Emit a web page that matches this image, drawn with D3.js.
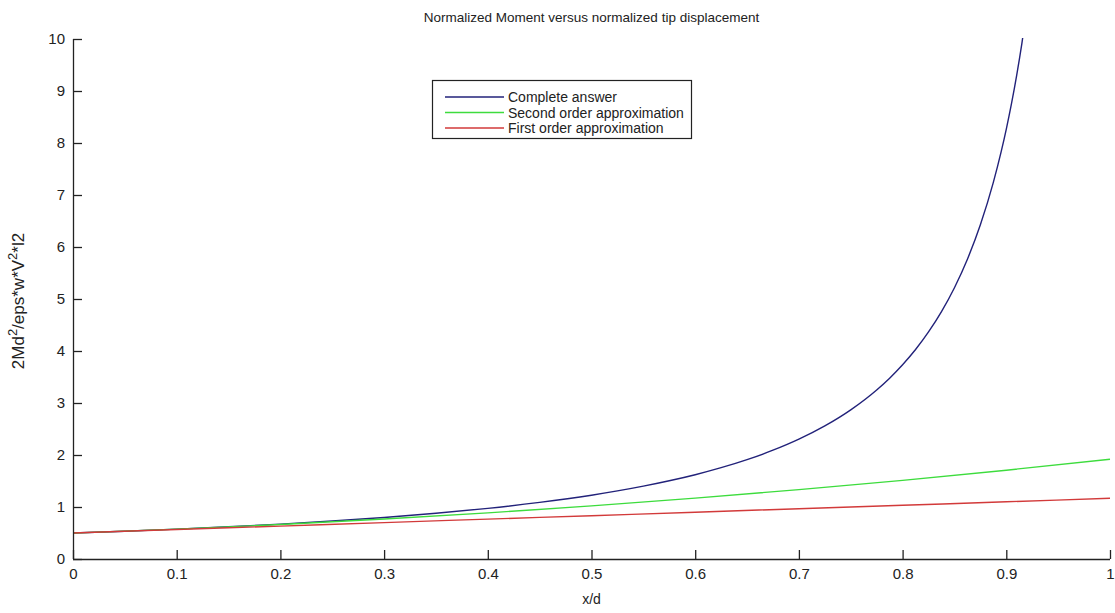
<!DOCTYPE html>
<html>
<head>
<meta charset="utf-8">
<script src="https://cdn.jsdelivr.net/npm/d3@7"></script>
<style>
  html, body { margin: 0; padding: 0; background: #fff; }
  svg { display: block; }
</style>
</head>
<body>
<svg id="chart" width="1115" height="613"></svg>
<script>
// ---- data ----
const seriesNames = ["Complete answer", "Second order approximation", "First order approximation"];
const seriesColors = ["#22227a", "#3ddc3d", "#d23a3a"];

const completeX = [0, 0.05, 0.1, 0.15, 0.2, 0.25, 0.3, 0.35, 0.4, 0.45, 0.5, 0.525, 0.55, 0.575, 0.6, 0.625, 0.65, 0.675, 0.7, 0.725, 0.75, 0.775, 0.7875, 0.8, 0.8125, 0.825, 0.8375, 0.85, 0.8625, 0.875, 0.8875, 0.895, 0.9, 0.905, 0.91, 0.915, 0.92];
const completeY = [0.5, 0.535, 0.575, 0.620, 0.671, 0.730, 0.799, 0.879, 0.974, 1.088, 1.227, 1.309, 1.401, 1.504, 1.621, 1.756, 1.911, 2.092, 2.305, 2.560, 2.869, 3.251, 3.478, 3.735, 4.028, 4.366, 4.757, 5.217, 5.765, 6.427, 7.242, 7.828, 8.268, 8.757, 9.302, 9.913, 10.603];

const secondX = [0, 0.1, 0.2, 0.3, 0.4, 0.5, 0.6, 0.7, 0.8, 0.9, 1.0];
const secondY = [0.5, 0.574, 0.663, 0.768, 0.887, 1.021, 1.170, 1.334, 1.513, 1.708, 1.917];

const firstX = [0, 0.1, 0.2, 0.3, 0.4, 0.5, 0.6, 0.7, 0.8, 0.9, 1.0];
const firstY = [0.5, 0.567, 0.633, 0.700, 0.767, 0.833, 0.900, 0.967, 1.033, 1.100, 1.167];

const xTicks = [0, 0.1, 0.2, 0.3, 0.4, 0.5, 0.6, 0.7, 0.8, 0.9, 1];
const yTicks = [0, 1, 2, 3, 4, 5, 6, 7, 8, 9, 10];

const titleText = "Normalized Moment versus normalized tip displacement";
const xLabelText = "x/d";

// ---- layout ----
const svg = d3.select("#chart");
const pL = 73, pR = 1110, pT = 39, pB = 559;
const x = d3.scaleLinear().domain([0, 1]).range([pL, pR]);
const y = d3.scaleLinear().domain([0, 10]).range([pB, pT]);

const axisColor = "#222";
const fontFam = "'Liberation Sans', Arial, sans-serif";
const fontSize = 14;
const tickFont = 15;

svg.append("defs").append("clipPath").attr("id", "plotclip")
  .append("rect").attr("x", pL).attr("y", pT - 1).attr("width", pR - pL + 2).attr("height", pB - pT + 1);

// series
const series = [
  { xs: completeX, ys: completeY },
  { xs: secondX, ys: secondY },
  { xs: firstX, ys: firstY }
];
const line = d3.line().x(d => x(d[0])).y(d => y(d[1])).curve(d3.curveMonotoneX);
const g = svg.append("g").attr("clip-path", "url(#plotclip)");
series.forEach((s, i) => {
  const pts = s.xs.map((v, j) => [v, s.ys[j]]);
  g.append("path").datum(pts)
    .attr("d", line)
    .attr("fill", "none")
    .attr("stroke", seriesColors[i])
    .attr("stroke-width", 1.4);
});

// axes
const xAxis = d3.axisBottom(x).tickValues(xTicks).tickSize(-9).tickPadding(9)
  .tickFormat(d => d3.format("~g")(d));
const gx = svg.append("g").attr("transform", `translate(0,${pB})`).call(xAxis);
const yAxis = d3.axisLeft(y).tickValues(yTicks).tickSize(-9).tickPadding(8)
  .tickFormat(d3.format("d"));
const gy = svg.append("g").attr("transform", `translate(${pL},0)`).call(yAxis);

[gx, gy].forEach(ax => {
  ax.attr("font-family", fontFam).attr("font-size", tickFont);
  ax.select(".domain").attr("stroke", axisColor).attr("stroke-width", 1.3);
  ax.selectAll(".tick line").attr("stroke", axisColor).attr("stroke-width", 1.3);
  ax.selectAll(".tick text").attr("fill", "#222");
});
gx.select(".domain").attr("d", `M${pL},0.5H${pR}`);
gy.select(".domain").attr("d", `M0.5,${pB}V${pT}`);

// title
svg.append("text").attr("x", (pL + pR) / 2).attr("y", 22)
  .attr("text-anchor", "middle").attr("font-family", fontFam).attr("font-size", 13.5).attr("fill", "#222")
  .text(titleText);

// x label
svg.append("text").attr("x", (pL + pR) / 2).attr("y", 604)
  .attr("text-anchor", "middle").attr("font-family", fontFam).attr("font-size", fontSize).attr("fill", "#222")
  .text(xLabelText);

// y label with superscripts
const yl = svg.append("text")
  .attr("transform", `translate(24,${(pT + pB) / 2 + 2}) rotate(-90)`)
  .attr("text-anchor", "middle").attr("font-family", fontFam).attr("font-size", 17).attr("fill", "#222");
yl.append("tspan").text("2Md");
yl.append("tspan").attr("dy", -7).attr("font-size", 13).text("2");
yl.append("tspan").attr("dy", 7).text("/eps*w*V");
yl.append("tspan").attr("dy", -7).attr("font-size", 13).text("2");
yl.append("tspan").attr("dy", 7).text("*l2");

// legend
const lgX = 432, lgY = 80, lgW = 259, lgH = 58, rowH = 15.5;
const lg = svg.append("g");
lg.append("rect").attr("x", lgX + 0.5).attr("y", lgY + 0.5).attr("width", lgW).attr("height", lgH)
  .attr("fill", "#fff").attr("stroke", axisColor).attr("stroke-width", 1.2);
seriesNames.forEach((name, i) => {
  const cy = lgY + 17 + i * rowH;
  lg.append("line").attr("x1", lgX + 13).attr("x2", lgX + 72).attr("y1", cy).attr("y2", cy)
    .attr("stroke", seriesColors[i]).attr("stroke-width", 1.4);
  lg.append("text").attr("x", lgX + 76).attr("y", cy + 5).attr("font-family", fontFam)
    .attr("font-size", fontSize).attr("fill", "#222")
    .text(name);
});
</script>
</body>
</html>
